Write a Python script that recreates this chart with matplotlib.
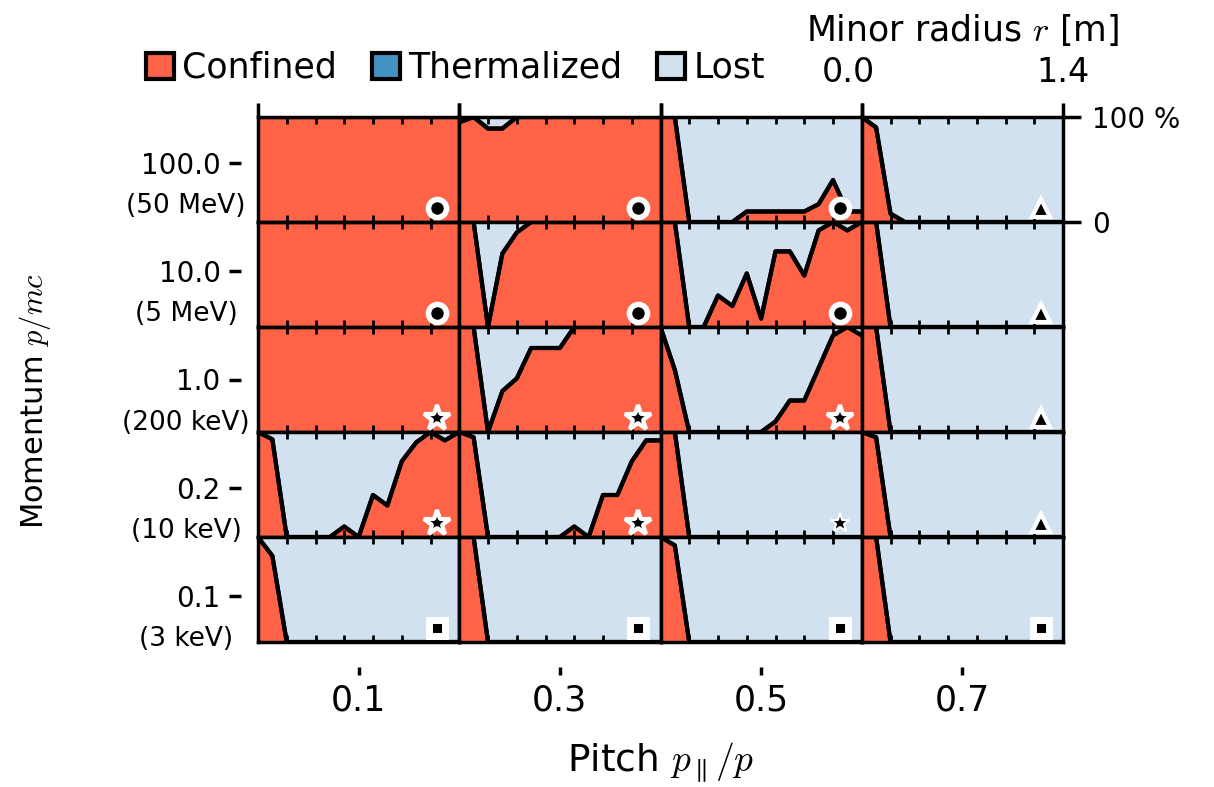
import numpy as np
import matplotlib.pyplot as plt
import matplotlib.transforms as mtransforms
from matplotlib.patches import Patch

plt.rcParams['mathtext.fontset'] = 'cm'
plt.rcParams['font.size'] = 20

# minor radius grid [m]
r = [0.0, 0.1, 0.2, 0.3, 0.4, 0.5, 0.6, 0.7, 0.8, 0.9, 1.0, 1.1, 1.2, 1.3, 1.4]

pitch = [0.1, 0.3, 0.5, 0.7]
momentum = ['100.0', '10.0', '1.0', '0.2', '0.1']
energy = ['(50 MeV)', '(5 MeV)', '(200 keV)', '(10 keV)', '(3 keV)']

# confined fraction, rows = momentum, cols = pitch
confined = [
    [[1, 1, 1, 1, 1, 1, 1, 1, 1, 1, 1, 1, 1, 1, 1],
     [0.95, 1, 0.89, 0.89, 1, 1, 1, 1, 1, 1, 1, 1, 1, 1, 1],
     [1, 1, 0, 0, 0, 0, 0.1, 0.1, 0.1, 0.1, 0.1, 0.17, 0.4, 0.1, 0.1],
     [1, 0.9, 0.08, 0, 0, 0, 0, 0, 0, 0, 0, 0, 0, 0, 0]],
    [[1, 1, 1, 1, 1, 1, 1, 1, 1, 1, 1, 1, 1, 1, 1],
     [1, 1, 0, 0.7, 0.9, 1, 1, 1, 1, 1, 1, 1, 1, 1, 1],
     [1, 1, 0, 0, 0.3, 0.2, 0.51, 0.08, 0.72, 0.72, 0.49, 0.92, 1, 0.92, 1],
     [1, 1, 0, 0, 0, 0, 0, 0, 0, 0, 0, 0, 0, 0, 0]],
    [[1, 1, 1, 1, 1, 1, 1, 1, 1, 1, 1, 1, 1, 1, 1],
     [1, 1, 0, 0.39, 0.51, 0.8, 0.8, 0.8, 1, 1, 1, 1, 1, 1, 1],
     [1, 0.59, 0, 0, 0, 0, 0, 0, 0.1, 0.3, 0.3, 0.61, 0.92, 1, 0.92],
     [1, 1, 0, 0, 0, 0, 0, 0, 0, 0, 0, 0, 0, 0, 0]],
    [[1, 0.93, 0, 0, 0, 0, 0.1, 0, 0.4, 0.3, 0.72, 0.9, 1, 0.92, 1],
     [1, 0.95, 0, 0, 0, 0, 0, 0, 0.1, 0, 0.4, 0.4, 0.72, 0.92, 0.92],
     [1, 1, 0, 0, 0, 0, 0, 0, 0, 0, 0, 0, 0, 0, 0],
     [1, 0.95, 0, 0, 0, 0, 0, 0, 0, 0, 0, 0, 0, 0, 0]],
    [[1, 0.82, 0, 0, 0, 0, 0, 0, 0, 0, 0, 0, 0, 0, 0],
     [1, 1, 0, 0, 0, 0, 0, 0, 0, 0, 0, 0, 0, 0, 0],
     [1, 0.92, 0, 0, 0, 0, 0, 0, 0, 0, 0, 0, 0, 0, 0],
     [1, 1, 0, 0, 0, 0, 0, 0, 0, 0, 0, 0, 0, 0, 0]],
]
thermalized = [0] * 15

markers = [['o', 'o', 'o', '^'],
           ['o', 'o', 'o', '^'],
           ['*', '*', '*', '^'],
           ['*', '*', '*', '^'],
           ['s', 's', 's', 's']]

c_conf, c_therm, c_lost = '#ff6347', '#4393c3', '#d1e1f0'

fig = plt.figure(figsize=(12.14, 7.87), dpi=100)
L, R, T, B = 258 / 1214, 1063 / 1214, 1 - 117 / 787, 1 - 642 / 787
gs = fig.add_gridspec(5, 4, left=L, right=R, top=T, bottom=B, hspace=0, wspace=0)

# outer axes for pitch / momentum
axo = fig.add_axes([L, 1 - 650 / 787, R - L, (650 - 109) / 787])
axo.patch.set_visible(False)
for s in axo.spines.values():
    s.set_visible(False)
axo.spines['bottom'].set_position(('outward', 12))
axo.spines['left'].set_position(('outward', 12))
axo.set_xlim(0, 0.8)
axo.set_ylim(4.5, -0.5)
axo.set_xticks(pitch, [str(p) for p in pitch], fontsize=25)
axo.set_yticks(range(5), momentum)
axo.tick_params(axis='x', length=6, width=2.5, pad=6)
axo.tick_params(axis='y', length=9, width=2.5, pad=6)
for k, e in enumerate(energy):
    axo.annotate(e, xy=(0, k), xycoords=axo.get_yaxis_transform(),
                 xytext=(-72, -43), textcoords='offset pixels',
                 ha='center', va='center', fontsize=19)
axo.set_xlabel('Pitch $p_\\parallel/p$', fontsize=27, labelpad=17)
axo.set_ylabel('Momentum $p/mc$', fontsize=22)
axo.yaxis.set_label_coords(-0.255, 0.46)

for i in range(5):
    for j in range(4):
        ax = fig.add_subplot(gs[i, j])
        conf = np.array(confined[i][j], dtype=float)
        th = np.array(thermalized, dtype=float)
        lost = 1 - conf - th
        ax.stackplot(r, conf, th, lost, colors=[c_conf, c_therm, c_lost], lw=0)
        ax.plot(r, conf, color='k', lw=3)
        ax.plot(r, conf + th, color='k', lw=3)
        ax.set_xlim(0, 1.4)
        ax.set_ylim(0, 1)
        for s in ax.spines.values():
            s.set_linewidth(2.5)
        ax.set_xticks([0.2, 0.4, 0.6, 0.8, 1.0, 1.2], minor=True)
        ax.tick_params(which='minor', direction='in', top=True, bottom=True,
                       length=5, width=2)
        ax.set_xticks([0, 1.4])
        ax.set_yticks([])
        if i == 0:
            ax.tick_params(which='major', top=True, bottom=False, direction='out',
                           length=10, width=2.5, labelbottom=False, labeltop=(j == 3),
                           pad=10)
        else:
            ax.tick_params(which='major', length=0, labelbottom=False)
        if i == 0 and j == 3:
            ax.set_xticklabels(['0.0', '1.4'], fontsize=24)
            first = ax.xaxis.get_major_ticks()[0].label2
            first.set_transform(first.get_transform() +
                                mtransforms.ScaledTranslation(-0.13, 0, fig.dpi_scale_trans))
            ax.xaxis.set_label_position('top')
            ax.set_xlabel('Minor radius $r$ [m]', fontsize=25, labelpad=11)
            ax.yaxis.tick_right()
            ax.set_yticks([0, 1], ['0', '100 %'])
            ax.tick_params(axis='y', direction='out', length=13, width=2.5, pad=8)
        m = markers[i][j]
        size, edge = {'o': (13, 4), '^': (13, 3), '*': (19, 3), 's': (11, 5)}[m]
        if i == 3 and j == 2:
            size, edge = 14, 1.5
        ax.plot(0.89, 0.13, marker=m, ms=size, mfc='k', mec='w', mew=edge,
                transform=ax.transAxes, clip_on=False, zorder=5)

handles = [Patch(facecolor=c, edgecolor='k', lw=3) for c in (c_conf, c_therm, c_lost)]
fig.legend(handles, ['Confined', 'Thermalized', 'Lost'], loc='center left',
           bbox_to_anchor=(132 / 1214, 1 - 68 / 787), ncol=3, frameon=False,
           prop={'size': 25}, handlelength=0.8, handleheight=0.8,
           handletextpad=0.25, columnspacing=1.0, borderaxespad=0)

fig.savefig('out.png', dpi=100)
